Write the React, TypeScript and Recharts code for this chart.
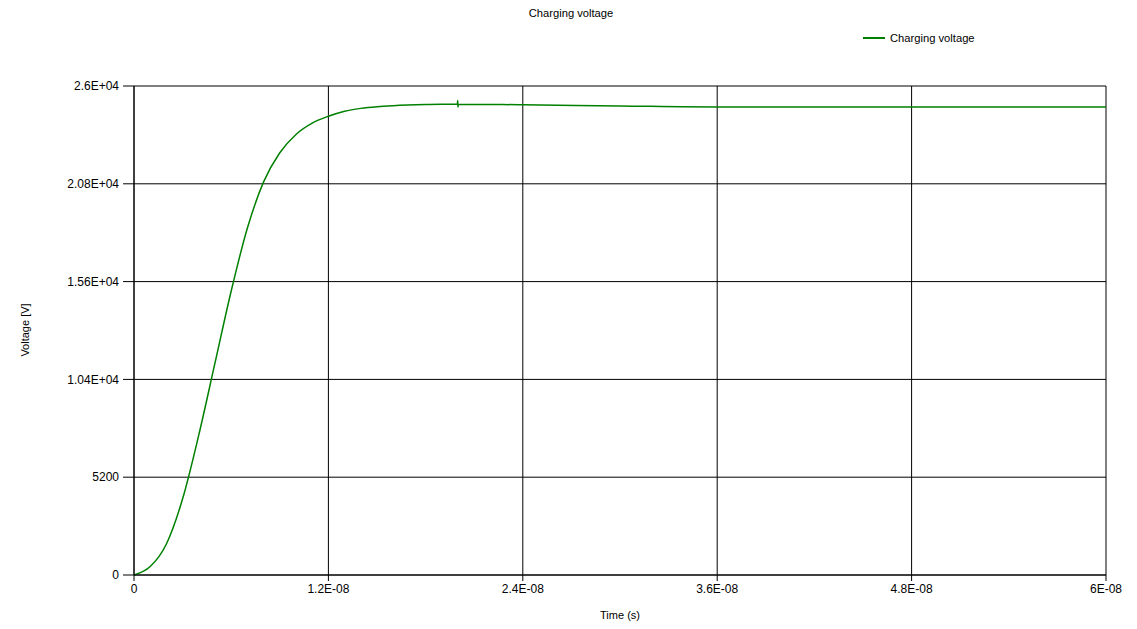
import { LineChart, Line, XAxis, YAxis, CartesianGrid } from 'recharts';

// time in ns
const timeNs = [
  0, 1, 2, 3, 4, 5, 6, 7, 8, 9, 10, 11, 12, 13, 14, 15, 16, 18,
  19.96, 19.98, 20.0, 20.02, 24, 30, 36, 48, 60,
];

const voltage = [
  0, 450, 1650, 4050, 7450, 11275, 15100, 18450, 20900, 22450, 23425, 24025,
  24390, 24660, 24810, 24900, 24955, 25015,
  25035, 25230, 24880, 25035, 25000, 24940, 24885, 24880, 24880,
];

const xTicks = [0, 1.2e-8, 2.4e-8, 3.6e-8, 4.8e-8, 6e-8];
const xTickLabels = ['0', '1.2E-08', '2.4E-08', '3.6E-08', '4.8E-08', '6E-08'];
const yTicks = [0, 5200, 10400, 15600, 20800, 26000];
const yTickLabels = ['0', '5200', '1.04E+04', '1.56E+04', '2.08E+04', '2.6E+04'];

const data = timeNs.map((t, i) => ({ t: t * 1e-9, v: voltage[i] }));

const font = '"Liberation Sans", Arial, sans-serif';
const tickStyle = { fill: '#000', fontSize: 12, fontFamily: font };

const App = () => {
  return (
    <div style={{ position: 'absolute', left: 0, top: 0, width: 1137, height: 629, background: '#fff', fontFamily: font }}>
      <div style={{ position: 'absolute', left: 0, width: 1142, top: 7, textAlign: 'center', fontSize: 11.2 }}>
        Charging voltage
      </div>
      <div style={{ position: 'absolute', left: 863, top: 32, display: 'flex', alignItems: 'center', fontSize: 11.2 }}>
        <svg width={22} height={4} style={{ marginRight: 5 }}>
          <line x1={0} y1={2} x2={22} y2={2} stroke="#008000" strokeWidth={2} />
        </svg>
        Charging voltage
      </div>
      <div style={{ position: 'absolute', left: 25, top: 330, fontSize: 11, transform: 'translate(-50%, -50%) rotate(-90deg)', whiteSpace: 'nowrap' }}>
        Voltage [V]
      </div>
      <div style={{ position: 'absolute', left: 620, top: 615, fontSize: 11, transform: 'translate(-50%, -50%)', whiteSpace: 'nowrap' }}>
        Time (s)
      </div>
      <LineChart width={1137} height={629} data={data} margin={{ top: 86, right: 31, bottom: 24, left: 0 }}>
        <CartesianGrid stroke="#000" strokeWidth={1} horizontalValues={yTicks} verticalValues={xTicks} />
        <XAxis
          dataKey="t"
          type="number"
          domain={[0, 6e-8]}
          ticks={xTicks}
          tickFormatter={(v: number) => xTickLabels[xTicks.indexOf(v)] ?? String(v)}
          tick={tickStyle}
          tickSize={6}
          tickMargin={3}
          stroke="#000"
          height={30}
          interval={0}
        />
        <YAxis
          dataKey="v"
          type="number"
          domain={[0, 26000]}
          ticks={yTicks}
          tickFormatter={(v: number) => yTickLabels[yTicks.indexOf(v)] ?? String(v)}
          tick={tickStyle}
          tickSize={11}
          tickMargin={4}
          stroke="#000"
          width={134}
          interval={0}
        />
        <Line
          type="monotone"
          dataKey="v"
          stroke="#008000"
          strokeWidth={1.5}
          dot={false}
          isAnimationActive={false}
        />
      </LineChart>
    </div>
  );
};

export default App;
